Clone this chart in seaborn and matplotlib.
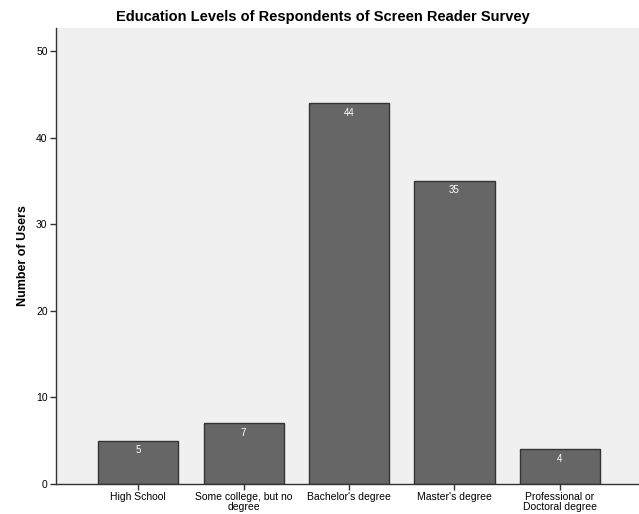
import seaborn as sns
import pandas as pd
import matplotlib.pyplot as plt

# data
categories = ["High School", "Some college, but no\ndegree", "Bachelor's degree",
              "Master's degree", "Professional or\nDoctoral degree"]
counts = [5, 7, 44, 35, 4]

df = pd.DataFrame({"Education": categories, "Users": counts})

sns.set_style("ticks")
plt.rcParams['font.family'] = ['Liberation Sans', 'DejaVu Sans']

fig = plt.figure(figsize=(6.39, 5.14), dpi=100)
ax = fig.add_axes([0.0876, 0.0584, 0.9124, 0.8871])
ax.set_facecolor("#f0f0f0")

sns.barplot(data=df, x="Education", y="Users", color="#666666", saturation=1,
            width=0.76, edgecolor="#333333", linewidth=1, ax=ax)

# value labels inside bar tops
for i, v in enumerate(counts):
    ax.text(i, v - 0.5, str(v), ha="center", va="top", color="white", fontsize=7)

ax.set_ylim(0, 52.7)
ax.set_xlim(-0.78, 4.75)
ax.set_yticks([0, 10, 20, 30, 40, 50])
ax.tick_params(axis="both", labelsize=7.5, length=4, width=1, colors="#333333", pad=2)
ax.tick_params(axis="both", labelcolor="black")
ax.set_xlabel("")
ax.set_ylabel("Number of Users", fontsize=9, fontweight="bold", labelpad=5, color="black")
# title is centred on the figure, not the axes
fig.text(0.505, 0.967, "Education Levels of Respondents of Screen Reader Survey",
         fontsize=10.5, fontweight="bold", ha="center", va="center", color="black")
for lab in ax.get_xticklabels():
    lab.set_linespacing(0.9)

sns.despine(ax=ax, top=True, right=True)
for s in ["left", "bottom"]:
    ax.spines[s].set_color("#333333")
    ax.spines[s].set_linewidth(1)

fig.savefig("out.png", dpi=100, facecolor="white")
